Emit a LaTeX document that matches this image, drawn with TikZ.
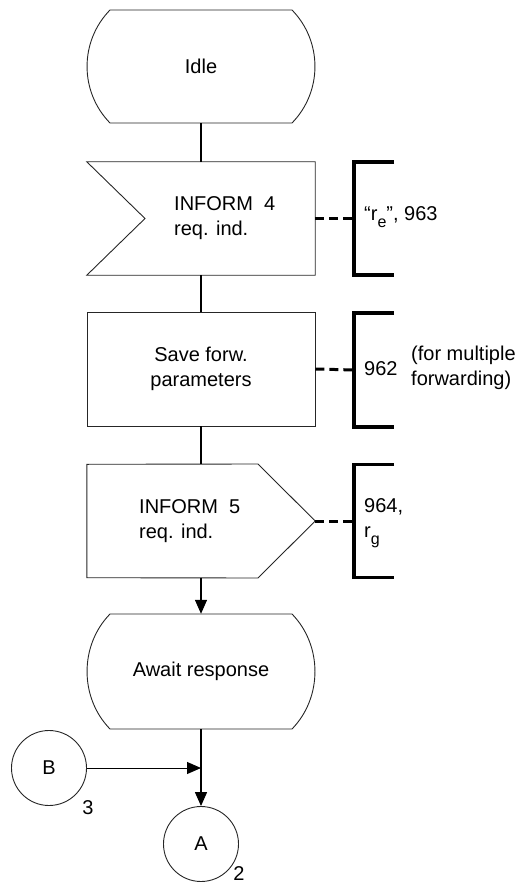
\documentclass[tikz,border=0pt]{standalone}
\usepackage{fontspec}
\setmainfont{Liberation Sans}
\usetikzlibrary{arrows.meta}
\newcommand{\mysub}[1]{\raisebox{-7pt}{\fontsize{16}{16}\selectfont #1}}
\begin{document}
\begin{tikzpicture}[x=1pt,y=-1pt,
  frame/.style={draw=none,minimum width=228pt,minimum height=113pt,inner sep=0pt},
  txt/.style={font=\fontsize{20}{25}\selectfont, align=center, inner sep=0pt},
  ltxt/.style={txt, align=left, anchor=west},
  outline/.style={draw=black!85, line width=0.9pt},
  flow/.style={draw=black, line width=1.4pt},
  arr/.style={-{Triangle[length=14pt,width=12pt]}},
  cframe/.style={draw=none,minimum width=40pt,minimum height=113pt,inner sep=0pt},
  cbrack/.style={line width=3.5pt, line join=miter},
  cdash/.style={line width=3pt, dash pattern=on 9pt off 5pt},
  conn/.style={circle, outline, minimum size=75pt, inner sep=0pt, txt}
]
\useasboundingbox (0,0) rectangle (522,890);

% Idle state
\node[frame, txt] (idle) at (201,66.5) {Idle};
\draw[outline] (110,10) -- (292,10) .. controls (322.6,41.4) and (322.6,91.6) .. (292,123)
  -- (110,123) .. controls (79.4,91.6) and (79.4,41.4) .. (110,10) -- cycle;

% Input INFORM 4
\node[frame] (in4) at (201,218.5) {};
\draw[outline] (in4.north west) -- (in4.north east) -- (in4.south east) -- (in4.south west) -- (145,218.5) -- cycle;
\node[ltxt] (in4t) at (174,218.5) {INFORM\ \ 4\\req. ind.};

% Task
\node[frame, txt, outline, minimum height=114pt] (task) at (201,369) {Save forw.\\parameters};

% Output INFORM 5
\node[frame] (out5) at (201,521) {};
\draw[outline] (out5.north west) -- (258,464) -- (out5.east) -- (258,578) -- (out5.south west) -- cycle;
\node[ltxt] (out5t) at (139,521) {INFORM\ \ 5\\req. ind.};

% Await response
\node[frame, txt, minimum height=115pt] (await) at (201,671.5) {Await response};
\draw[outline] (110,614) -- (292,614) .. controls (322.6,645.4) and (322.6,697.6) .. (292,729)
  -- (110,729) .. controls (79.4,697.6) and (79.4,645.4) .. (110,614) -- cycle;

% Connectors
\node[conn] (B) at (49,768) {B};
\node[txt] (B3) at (88,808) {3};
\node[conn] (A) at (201,844) {A};
\node[txt] (A2) at (239,874) {2};
\coordinate (join) at (201,768);

% Flow lines
\draw[flow] (idle.south) -- (in4.north);
\draw[flow] (in4.south) -- (task.north);
\draw[flow] (task.south) -- (out5.north);
\draw[flow,arr] (out5.south) -- (await.north);
\draw[flow,arr] (await.south) -- (A.north);
\draw[draw=black, line width=1pt, arr] (B.east) -- (join);

% Comments
\node[cframe] (c1) at (374,218.5) {};
\node[cframe, minimum height=114pt] (c2) at (374,370) {};
\node[cframe] (c3) at (374,521) {};
\foreach \c in {c1,c2,c3}{
  \draw[cbrack] (\c.north east) -- (\c.north west) -- (\c.south west) -- (\c.south east);
}
\draw[cdash] (in4.east) -- (c1.west);
\draw[cdash] (task.east) -- (c2.west);
\draw[cdash] (out5.east) -- (c3.west);

\node[ltxt] (c1t) at (364,217) {“r\mysub{e}”, 963};
\node[ltxt] (c2t) at (364,369) {962};
\node[ltxt] (c2u) at (411,368) {(for multiple\\forwarding)};
\node[ltxt] (c3t) at (364,523) {964,\\r\mysub{g}};
\end{tikzpicture}
\end{document}
